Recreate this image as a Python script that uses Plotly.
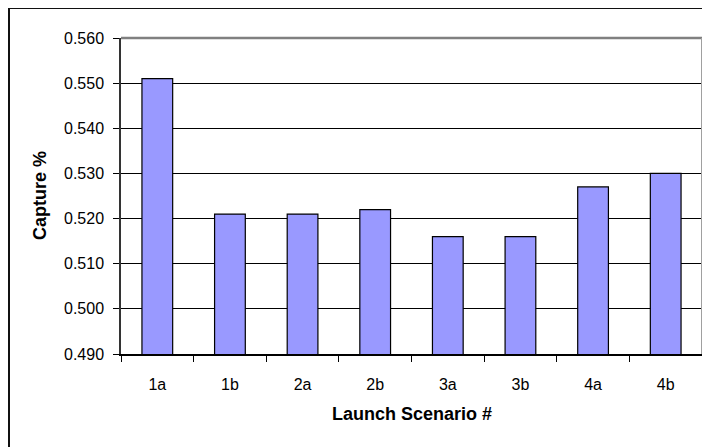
import plotly.graph_objects as go

categories = ["1a", "1b", "2a", "2b", "3a", "3b", "4a", "4b"]
capture = [0.551, 0.521, 0.521, 0.522, 0.516, 0.516, 0.527, 0.530]
y_tick_values = [0.49, 0.50, 0.51, 0.52, 0.53, 0.54, 0.55, 0.56]
y_tick_labels = ["0.490", "0.500", "0.510", "0.520", "0.530", "0.540", "0.550", "0.560"]
x_title = "Launch Scenario #"
y_title = "Capture %"

# page has an 8px body margin, so figure coords = screen coords - 8
OFF = 8
W, H = 710 - OFF, 447 - OFF
ML, MT = 121 - OFF, 38 - OFF
MR = W - (702 - OFF)
MB = H - (354 - OFF)
PW = W - ML - MR
PH = H - MT - MB

def px_x(p):
    return (p - OFF - ML) / PW

def px_y(p):
    return (H - MB - (p - OFF)) / PH

font = "Liberation Sans, Arial, sans-serif"

fig = go.Figure(
    go.Bar(
        x=categories,
        y=capture,
        marker=dict(color="#9999FF", line=dict(color="#000000", width=1.2)),
        hoverinfo="x+y",
    )
)

fig.update_layout(
    width=W,
    height=H,
    margin=dict(l=ML, r=MR, t=MT, b=MB, pad=0),
    paper_bgcolor="white",
    plot_bgcolor="white",
    bargap=0.577,
    showlegend=False,
    font=dict(family=font, size=16, color="#000000"),
)

fig.update_xaxes(
    type="category",
    showgrid=False,
    showline=True,
    linecolor="#000000",
    linewidth=1.5,
    ticks="outside",
    tickson="boundaries",
    ticklen=6,
    tickcolor="#000000",
    tickwidth=1,
    ticklabelstandoff=15,
    tickfont=dict(family=font, size=16, color="#000000"),
    zeroline=False,
)

fig.update_yaxes(
    range=[y_tick_values[0], y_tick_values[-1]],
    tickvals=y_tick_values,
    ticktext=y_tick_labels,
    showgrid=True,
    gridcolor="#000000",
    gridwidth=1,
    showline=True,
    linecolor="#333333",
    linewidth=1.5,
    ticks="outside",
    ticklen=6,
    tickcolor="#000000",
    tickwidth=1,
    ticklabelstandoff=6,
    tickfont=dict(family=font, size=16, color="#000000"),
    zeroline=False,
)

shapes = [
    # plot-area top and right border (gray)
    dict(type="line", xref="paper", yref="paper", x0=0, x1=1, y0=1, y1=1,
         line=dict(color="#808080", width=2.5)),
    dict(type="line", xref="paper", yref="paper", x0=1, x1=1, y0=0, y1=1,
         line=dict(color="#A0A0A0", width=2)),
    # outer chart frame (left + top, clipped by image edges)
    dict(type="line", xref="paper", yref="paper", x0=px_x(9), x1=px_x(9), y0=px_y(8), y1=px_y(470),
         line=dict(color="#111111", width=2)),
    dict(type="line", xref="paper", yref="paper", x0=px_x(9), x1=px_x(730), y0=px_y(8), y1=px_y(8),
         line=dict(color="#111111", width=2)),
]
fig.update_layout(shapes=shapes)

fig.add_annotation(
    text=y_title, xref="paper", yref="paper", x=px_x(40), y=px_y(196),
    showarrow=False, textangle=-90, xanchor="center", yanchor="middle",
    font=dict(family=font, size=18, color="#000000", weight="bold"),
)
fig.add_annotation(
    text=x_title, xref="paper", yref="paper", x=0.5, y=px_y(414),
    showarrow=False, xanchor="center", yanchor="middle",
    font=dict(family=font, size=18, color="#000000", weight="bold"),
)

fig.write_html("out.html")
